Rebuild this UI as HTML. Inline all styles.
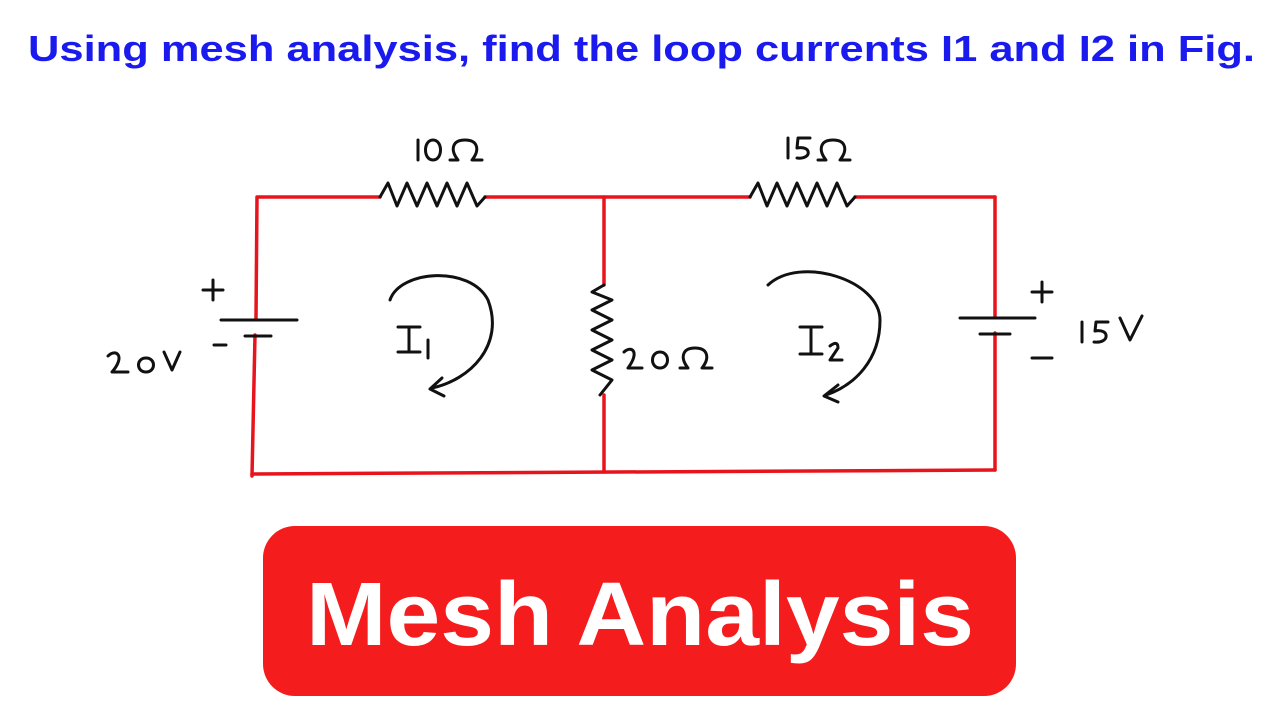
<!DOCTYPE html>
<html><head><meta charset="utf-8"><style>
html,body{margin:0;padding:0;background:#fff;width:1280px;height:720px;overflow:hidden}
svg{display:block}
</style></head><body>
<svg width="1280" height="720" viewBox="0 0 1280 720" xmlns="http://www.w3.org/2000/svg">
<rect width="1280" height="720" fill="#fff"/>
<text x="28" y="61" font-family="Liberation Sans, sans-serif" font-weight="bold" font-size="36" fill="#1a1aee" textLength="1227" lengthAdjust="spacingAndGlyphs">Using mesh analysis, find the loop currents I1 and I2 in Fig.</text>
<g stroke="#e8141c" stroke-width="3.5" fill="none" stroke-linecap="round">
<path d="M258 197 L380 197 M485 197 L750 197 M855 197 L995 197"/>
<path d="M257 197 L256 318 M255 335 L252 476"/>
<path d="M252 474 L995 470"/>
<path d="M604 197 L604 285 M604 395 L604 472"/>
<path d="M995 197 L995 316 M995 333 L995 470"/>
</g>
<g stroke="#111" stroke-width="3" fill="none" stroke-linecap="round" stroke-linejoin="round">
<path d="M221 320 L297 320"/><path d="M245 336 L271 336"/>
<path d="M213 280 L213 300 M203 290 L223 290"/><path d="M214 345 L226 345"/>
<path d="M960 318 L1035 318"/><path d="M980 334 L1010 334"/>
<path d="M1042 282 L1042 302 M1032 292 L1052 292"/><path d="M1032 358 L1052 358"/>
<path d="M380 197 L388 183 L397 206 L407 183 L417 206 L427 183 L437 206 L447 183 L457 206 L467 183 L477 206 L485 197"/>
<path d="M750 197 L758 183 L767 206 L777 183 L787 206 L797 183 L807 206 L817 183 L827 206 L837 183 L847 206 L855 197"/>
<path d="M604 285 L592 292 L612 300 L592 310 L612 320 L592 330 L612 340 L592 350 L612 360 L592 370 L612 380 L600 395"/>
<path d="M390 300 C400 270 470 265 488 300 C505 345 470 380 432 388"/>
<path d="M442 378 L430 389 L444 396"/>
<path d="M768 285 C800 255 880 280 880 320 C880 360 855 385 826 395"/>
<path d="M838 385 L824 396 L838 402"/>
<path d="M398 327 L420 327 M409 327 L409 352 M398 352 L420 352 M428 340 L428 358"/>
<path d="M800 327 L822 327 M811 327 L811 354 M800 354 L822 354 M830 346 Q838 340 838 348 L830 360 L842 360"/>
<path d="M418 140 L418 160 M433 140 C423 140 423 160 433 160 C443 160 443 140 433 140"/>
<path d="M450 160 L458 160 C450 150 452 140 465 140 C478 140 480 150 472 160 L482 160"/>
<path d="M788 138 L788 158 M810 138 L798 138 L797 148 C812 145 812 160 797 158"/>
<path d="M818 160 L826 160 C818 150 820 140 833 140 C846 140 848 150 840 160 L850 160"/>
<path d="M624 352 C632 345 640 352 628 368 L642 368 M660 352 C650 352 650 368 660 368 C670 368 670 352 660 352"/>
<path d="M680 368 L688 368 C680 358 682 348 695 348 C708 348 710 358 702 368 L712 368"/>
<path d="M108 356 C116 348 126 356 112 372 L128 372 M146 358 C136 358 136 372 146 372 C156 372 156 358 146 358 M164 352 L172 370 L180 352"/>
<path d="M1082 322 L1082 342 M1108 322 L1096 322 L1095 331 C1110 328 1110 344 1094 342 M1120 318 L1130 340 L1142 316"/>
</g>
<rect x="263" y="526" width="753" height="170" rx="32" fill="#f41c1c"/>
<text x="640" y="645" text-anchor="middle" font-family="Liberation Sans, sans-serif" font-weight="bold" font-size="90" fill="#fff" textLength="668" lengthAdjust="spacingAndGlyphs">Mesh Analysis</text>
</svg>
</body></html>
